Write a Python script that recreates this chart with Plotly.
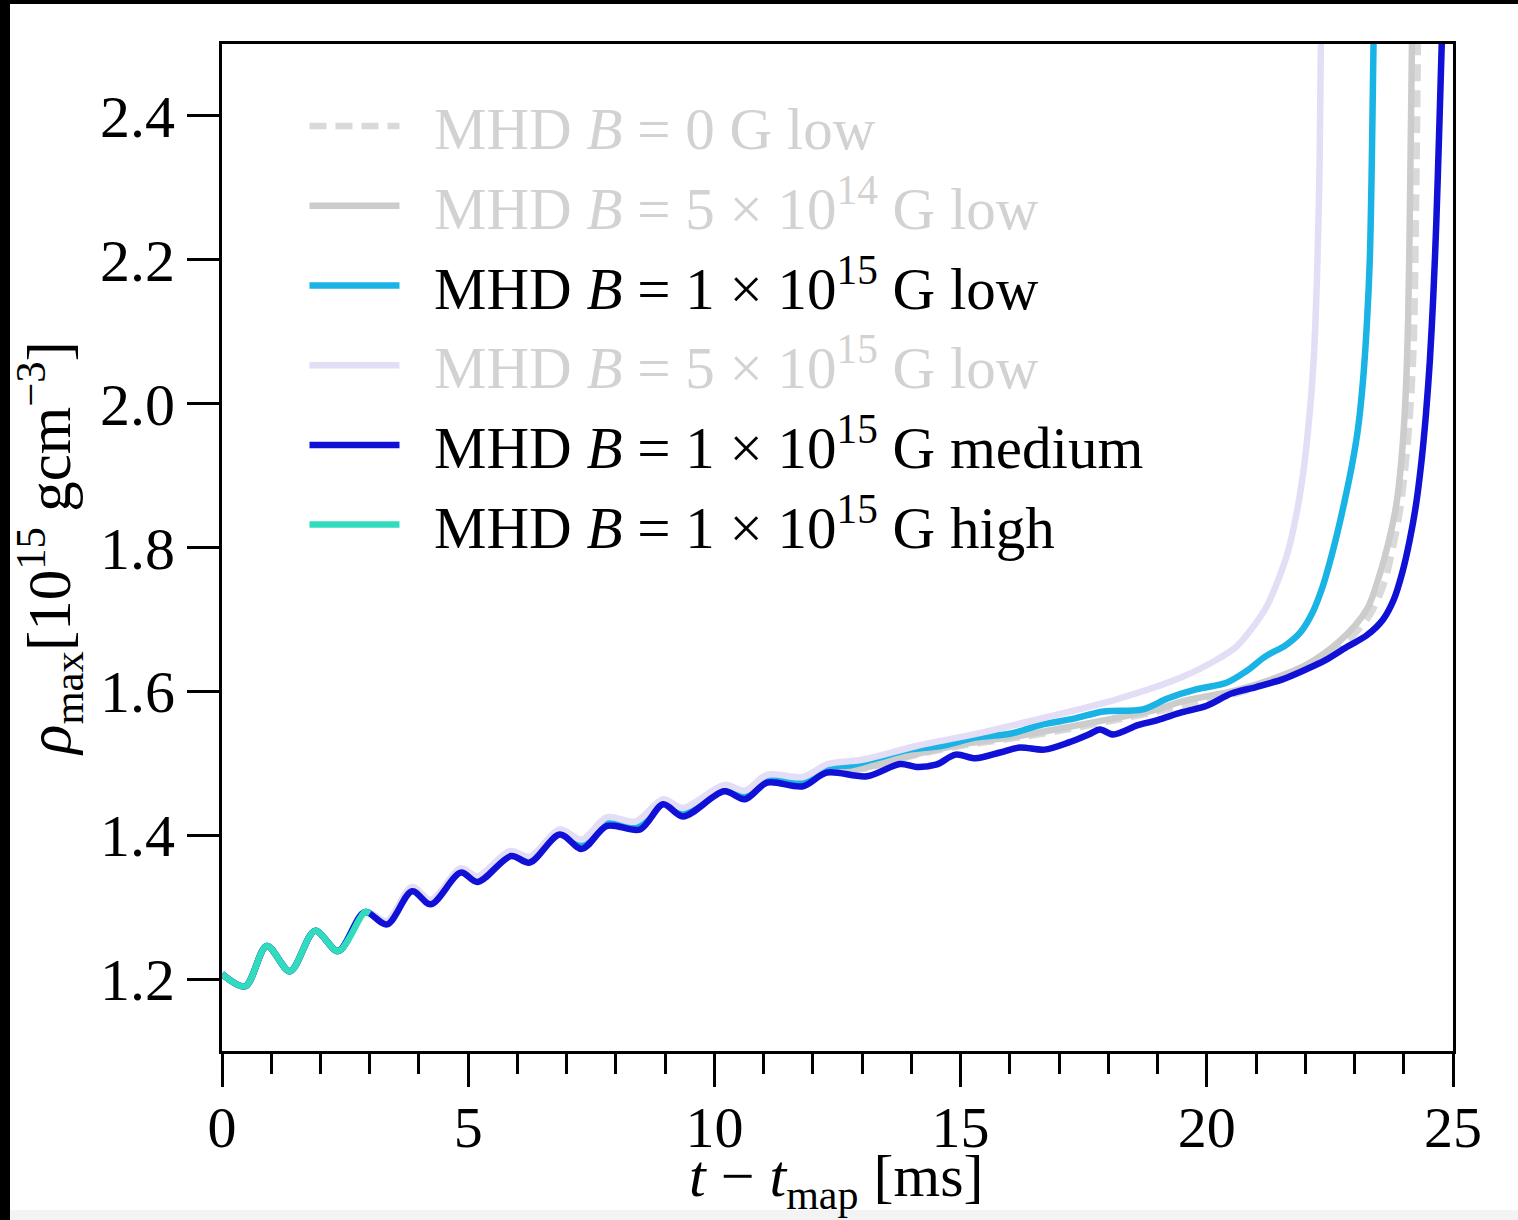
import plotly.graph_objects as go

# ---- data ----
t_b0 = [0.0, 0.47, 0.91, 1.38, 1.89, 2.36, 2.90, 3.35, 3.86, 4.24, 4.85, 5.19, 5.87, 6.25, 6.86, 7.31, 7.82, 8.45,
        8.96, 9.36, 10.2, 10.62, 11.07, 11.8, 12.28, 13.0, 14.0, 15.0, 16.0, 17.0, 18.0, 19.0, 19.8, 20.6, 21.3,
        22.0, 22.7, 23.3, 23.6, 23.78, 23.92, 24.03, 24.12, 24.2, 24.25, 24.29]
rho_b0 = [1.207, 1.190, 1.246, 1.211, 1.267, 1.239, 1.293, 1.278, 1.325, 1.306, 1.350, 1.338, 1.373, 1.364, 1.403,
          1.386, 1.417, 1.411, 1.445, 1.430, 1.464, 1.454, 1.477, 1.472, 1.491, 1.492, 1.510, 1.524, 1.534, 1.545,
          1.558, 1.572, 1.584, 1.597, 1.612, 1.632, 1.660, 1.705, 1.75, 1.80, 1.85, 1.91, 1.98, 2.08, 2.28, 2.52]

t_b5e14 = [0.0, 0.47, 0.91, 1.38, 1.89, 2.36, 2.90, 3.35, 3.86, 4.24, 4.85, 5.19, 5.87, 6.25, 6.86, 7.31, 7.82, 8.45,
           8.96, 9.36, 10.2, 10.62, 11.07, 11.8, 12.28, 13.0, 14.0, 15.0, 16.0, 17.0, 18.0, 19.0, 19.5, 20.5, 21.2,
           22.0, 22.7, 23.25, 23.5, 23.7, 23.85, 23.95, 24.03, 24.09, 24.13, 24.17]
rho_b5e14 = [1.207, 1.190, 1.246, 1.211, 1.267, 1.239, 1.293, 1.278, 1.325, 1.306, 1.350, 1.338, 1.373, 1.364, 1.403,
             1.386, 1.417, 1.411, 1.445, 1.430, 1.464, 1.454, 1.477, 1.472, 1.491, 1.493, 1.511, 1.526, 1.536, 1.548,
             1.561, 1.575, 1.586, 1.600, 1.614, 1.636, 1.670, 1.714, 1.76, 1.81, 1.86, 1.92, 2.00, 2.12, 2.30, 2.52]

t_low = [0.0, 0.47, 0.91, 1.38, 1.89, 2.36, 2.90, 3.35, 3.86, 4.24, 4.85, 5.19, 5.85, 6.25, 6.86, 7.31, 7.82, 8.4,
         8.96, 9.36, 10.2, 10.62, 11.07, 11.8, 12.28, 12.75, 13.3, 13.97, 14.6, 15.33, 16.0, 16.67, 17.3, 17.9,
         18.7, 19.2, 19.8, 20.4, 20.8, 21.2, 21.6, 21.9, 22.15, 22.35, 22.5, 22.65, 22.8, 22.95, 23.07, 23.17,
         23.25, 23.31, 23.35, 23.39]
rho_low = [1.207, 1.190, 1.246, 1.211, 1.267, 1.239, 1.293, 1.280, 1.327, 1.308, 1.352, 1.340, 1.375, 1.366, 1.405,
           1.390, 1.422, 1.414, 1.447, 1.433, 1.466, 1.457, 1.480, 1.476, 1.495, 1.497, 1.507, 1.519, 1.524, 1.536,
           1.541, 1.554, 1.562, 1.572, 1.575, 1.590, 1.603, 1.612, 1.628, 1.649, 1.664, 1.682, 1.710, 1.745, 1.780,
           1.820, 1.865, 1.915, 1.965, 2.030, 2.110, 2.200, 2.330, 2.520]

t_b5e15 = [0.0, 0.47, 0.91, 1.38, 1.89, 2.36, 2.90, 3.35, 3.86, 4.24, 4.85, 5.19, 5.85, 6.25, 6.86, 7.31, 7.82, 8.4,
           8.96, 9.36, 10.2, 10.62, 11.07, 11.8, 12.3, 13.0, 14.1, 15.45, 16.8, 18.17, 19.5, 20.2, 20.6, 20.9, 21.2,
           21.45, 21.65, 21.83, 21.97, 22.08, 22.17, 22.24, 22.29, 22.32]
rho_b5e15 = [1.207, 1.190, 1.246, 1.211, 1.267, 1.239, 1.293, 1.281, 1.328, 1.310, 1.354, 1.343, 1.378, 1.370, 1.408,
             1.394, 1.425, 1.419, 1.450, 1.438, 1.470, 1.462, 1.484, 1.481, 1.499, 1.505, 1.524, 1.543, 1.565, 1.589,
             1.620, 1.644, 1.662, 1.686, 1.716, 1.755, 1.795, 1.850, 1.910, 1.980, 2.060, 2.180, 2.330, 2.520]

t_med = [0.0, 0.47, 0.91, 1.38, 1.89, 2.36, 2.90, 3.35, 3.86, 4.24, 4.85, 5.19, 5.87, 6.25, 6.86, 7.31, 7.82, 8.49,
         8.96, 9.36, 10.2, 10.62, 11.07, 11.8, 12.28, 13.1, 13.77, 14.1, 14.5, 14.9, 15.3, 15.8, 16.2, 16.7, 17.2,
         17.6, 17.83, 18.1, 18.6, 19.0, 19.5, 20.0, 20.5, 21.0, 21.55, 22.0, 22.4, 22.85, 23.25, 23.58, 23.8, 23.97,
         24.12, 24.25, 24.36, 24.45, 24.53, 24.6, 24.66, 24.72, 24.78]
rho_med = [1.207, 1.190, 1.246, 1.211, 1.267, 1.239, 1.293, 1.276, 1.322, 1.304, 1.348, 1.335, 1.371, 1.362, 1.401,
           1.381, 1.413, 1.408, 1.443, 1.426, 1.461, 1.450, 1.473, 1.468, 1.487, 1.482, 1.499, 1.495, 1.498, 1.512,
           1.507, 1.515, 1.522, 1.519, 1.529, 1.540, 1.547, 1.540, 1.553, 1.560, 1.571, 1.580, 1.597, 1.606, 1.617,
           1.630, 1.643, 1.662, 1.678, 1.700, 1.728, 1.765, 1.810, 1.860, 1.920, 1.985, 2.060, 2.150, 2.250, 2.380,
           2.520]

t_high = [0.0, 0.47, 0.91, 1.38, 1.89, 2.36, 2.90, 3.0]
rho_high = [1.207, 1.190, 1.246, 1.211, 1.267, 1.239, 1.293, 1.291]

x_ticks = [0, 5, 10, 15, 20, 25]
y_ticks = [1.2, 1.4, 1.6, 1.8, 2.0, 2.2, 2.4]

FADED = "#d2d2d2"
SP = "\u2002"

series = [
    (t_b0, rho_b0, f"{SP}<span style='color:{FADED}'>MHD <i>B</i> = 0 G low</span>", "#d9d9d9", "17px,9px"),
    (t_b5e14, rho_b5e14, f"{SP}<span style='color:{FADED}'>MHD <i>B</i> = 5 × 10<sup>14</sup> G low</span>", "#cccccc", "solid"),
    (t_low, rho_low, f"{SP}MHD <i>B</i> = 1 × 10<sup>15</sup> G low", "#1ab3e6", "solid"),
    (t_b5e15, rho_b5e15, f"{SP}<span style='color:{FADED}'>MHD <i>B</i> = 5 × 10<sup>15</sup> G low</span>", "#e3ddf6", "solid"),
    (t_med, rho_med, f"{SP}MHD <i>B</i> = 1 × 10<sup>15</sup> G medium", "#1010d6", "solid"),
    (t_high, rho_high, f"{SP}MHD <i>B</i> = 1 × 10<sup>15</sup> G high", "#30dcbc", "solid"),
]

fig = go.Figure()
for t, r, name, color, dash in series:
    fig.add_trace(go.Scatter(x=t, y=r, mode="lines", name=name,
                             line=dict(color=color, width=6.5, dash=dash, shape="spline", smoothing=0.9)))

W, H = 1518, 1220
L, R, T, B = 222, 65, 44, 169
pw, ph = W - L - R, H - T - B

def px_x(p):
    return (p - L) / pw

def px_y(p):
    return 1 - (p - T) / ph

# page border seen in the photographed reference
fig.add_shape(type="rect", xref="paper", yref="paper", x0=px_x(0), x1=px_x(10), y0=px_y(H), y1=px_y(0),
              fillcolor="black", line_width=0, layer="below")
fig.add_shape(type="rect", xref="paper", yref="paper", x0=px_x(0), x1=px_x(W), y0=px_y(4), y1=px_y(0),
              fillcolor="black", line_width=0, layer="below")
fig.add_shape(type="rect", xref="paper", yref="paper", x0=px_x(10), x1=px_x(W), y0=px_y(H), y1=px_y(1210),
              fillcolor="#f3f3f3", line_width=0, layer="below")

font_family = "Liberation Serif, DejaVu Serif, serif"

# x-axis title placed as an annotation to sit exactly where the reference has it
fig.add_annotation(text="<i>t</i> − <i>t</i><sub>map</sub> [ms]", xref="paper", yref="paper",
                   x=px_x(836), y=px_y(1180), xanchor="center", yanchor="middle", showarrow=False,
                   font=dict(size=60, family=font_family, color="black"))

fig.update_layout(
    width=W, height=H,
    margin=dict(l=L, r=R, t=T, b=B),
    paper_bgcolor="white", plot_bgcolor="white",
    font=dict(family=font_family, size=56, color="black"),
    showlegend=True,
    legend=dict(x=0.067, y=0.963, xanchor="left", yanchor="top", bgcolor="rgba(0,0,0,0)",
                font=dict(size=59, family=font_family), itemwidth=90, tracegroupgap=0,
                traceorder="normal"),
)
fig.update_xaxes(range=[0, 25], tickvals=x_ticks, ticktext=[str(v) for v in x_ticks],
                 showline=True, linewidth=3, linecolor="black", mirror=True,
                 ticks="outside", ticklen=33, tickwidth=3, tickcolor="black",
                 minor=dict(dtick=1, ticks="outside", ticklen=20, tickwidth=3, tickcolor="black"),
                 showgrid=False, zeroline=False, tickfont=dict(size=58), ticklabelstandoff=-10)
fig.update_yaxes(range=[1.1, 2.5], tickvals=y_ticks, ticktext=[f"{v:.1f}" for v in y_ticks],
                 showline=True, linewidth=3, linecolor="black", mirror=True,
                 ticks="outside", ticklen=32, tickwidth=3, tickcolor="black",
                 showgrid=False, zeroline=False, tickfont=dict(size=60),
                 title=dict(text="<i>ρ</i><sub>max</sub>[10<sup>15</sup> gcm<sup>−3</sup>]", font=dict(size=61), standoff=10))

fig.write_html("out.html")
